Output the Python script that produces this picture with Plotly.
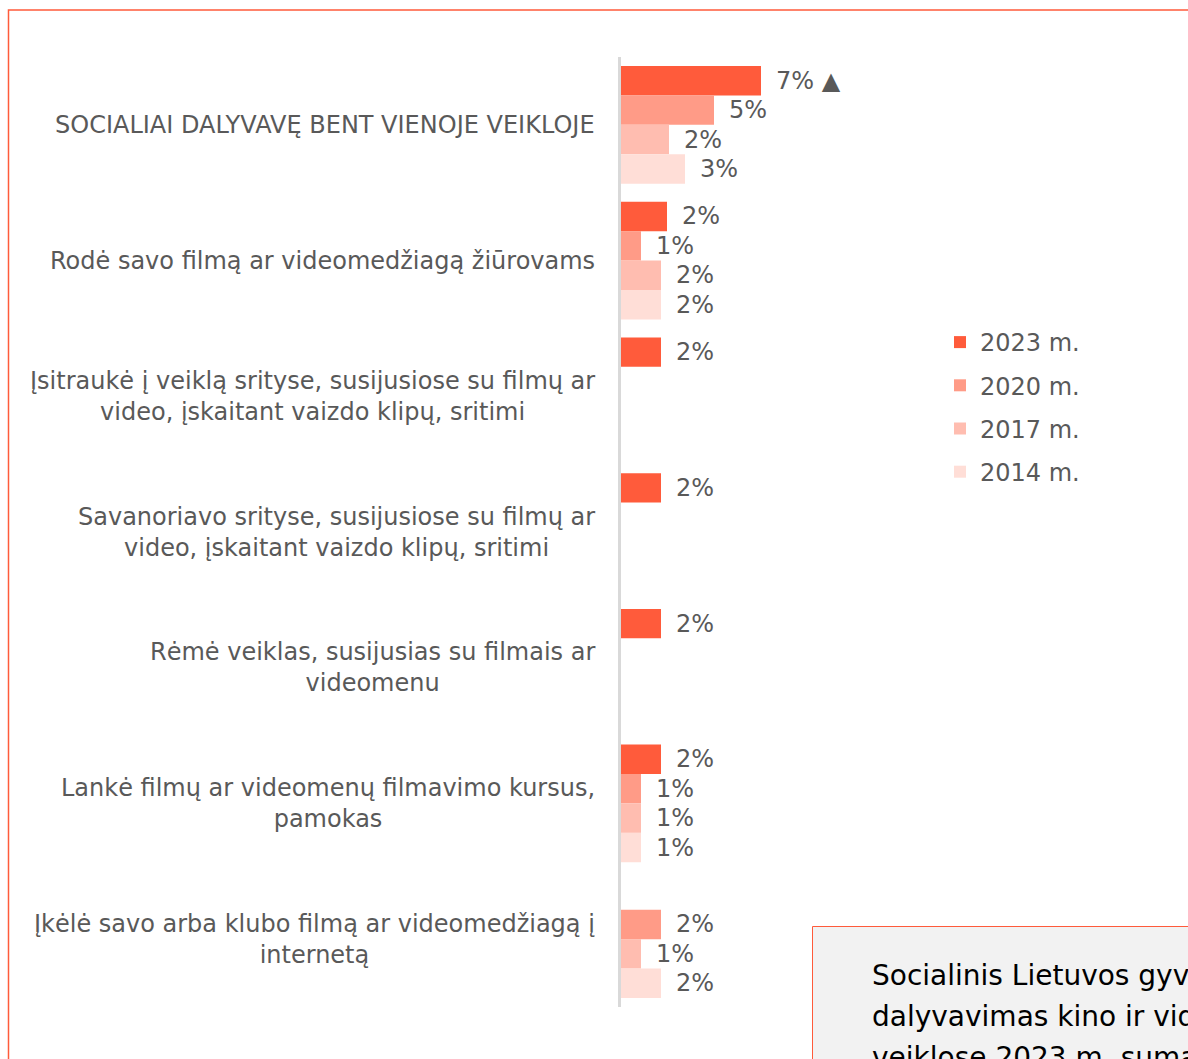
import plotly.graph_objects as go

categories = [
    "SOCIALIAI DALYVAVĘ BENT VIENOJE VEIKLOJE",
    "Rodė savo filmą ar videomedžiagą žiūrovams",
    "Įsitraukė į veiklą srityse, susijusiose su filmų ar<br>video, įskaitant vaizdo klipų, sritimi",
    "Savanoriavo srityse, susijusiose su filmų ar<br>video, įskaitant vaizdo klipų, sritimi",
    "Rėmė veiklas, susijusias su filmais ar<br>videomenu",
    "Lankė filmų ar videomenų filmavimo kursus,<br>pamokas",
    "Įkėlė savo arba klubo filmą ar videomedžiagą į<br>internetą",
]

series_names = ["2023 m.", "2020 m.", "2017 m.", "2014 m."]

values_2023 = [7.0, 2.3, 2.0, 2.0, 2.0, 2.0, None]
values_2020 = [4.65, 1.0, None, None, None, 1.0, 2.0]
values_2017 = [2.4, 2.0, None, None, None, 1.0, 1.0]
values_2014 = [3.2, 2.0, None, None, None, 1.0, 2.0]

labels_2023 = ["7% ▲", "2%", "2%", "2%", "2%", "2%", ""]
labels_2020 = ["5%", "1%", "", "", "", "1%", "2%"]
labels_2017 = ["2%", "2%", "", "", "", "1%", "1%"]
labels_2014 = ["3%", "2%", "", "", "", "1%", "2%"]

box_lines = [
    "Socialinis Lietuvos gyventojų",
    "dalyvavimas kino ir video",
    "veiklose 2023 m. sumažėjo",
]

colors = ["#FF5B3B", "#FF9B87", "#FFBDB0", "#FFDED7"]
FONT = "DejaVu Sans"
TXT = "#595959"
ORANGE = "#FF5B3B"

W, H = 1188, 1059
L, T, R, B = 621, 57, 267, 52
PW, PH = W - L - R, H - T - B


def px_x(p):
    return (p - L) / PW


def px_y(p):
    return (H - B - p) / PH


fig = go.Figure()
all_vals = [values_2023, values_2020, values_2017, values_2014]
all_labels = [labels_2023, labels_2020, labels_2017, labels_2014]
for name, vals, labs, col in zip(series_names, all_vals, all_labels, colors):
    fig.add_trace(go.Bar(
        y=categories, x=vals, name=name, orientation="h",
        marker=dict(color=col, line=dict(width=0)),
        text=labs, texttemplate="\u2002%{text}",
        textposition="outside", constraintext="none", cliponaxis=False,
        textfont=dict(family=FONT, size=24, color=TXT),
        legendgroup=name,
    ))

for cat in categories:
    fig.add_annotation(
        x=0, xref="paper", y=cat, yref="y", text=cat, showarrow=False,
        xanchor="right", yanchor="middle", align="center", xshift=-24,
        font=dict(family=FONT, size=24, color=TXT),
    )

# outer frame
fig.add_shape(type="rect", xref="paper", yref="paper",
              x0=px_x(8.5), x1=px_x(1250), y0=px_y(10), y1=px_y(1100),
              line=dict(color=ORANGE, width=1.5), fillcolor="rgba(0,0,0,0)", layer="below")
# text box
fig.add_shape(type="rect", xref="paper", yref="paper",
              x0=px_x(812.5), x1=px_x(1250), y0=px_y(926.5), y1=px_y(1100),
              line=dict(color=ORANGE, width=1), fillcolor="#F2F2F2", layer="below")
for i, line in enumerate(box_lines):
    fig.add_annotation(
        x=px_x(870), xref="paper", y=px_y(975 + 41 * i), yref="paper", text=line,
        showarrow=False, xanchor="left", yanchor="middle", align="left",
        font=dict(family=FONT, size=28, color="#000000"),
    )

fig.update_layout(
    width=W, height=H,
    margin=dict(l=L, r=R, t=T, b=B, pad=0),
    paper_bgcolor="white", plot_bgcolor="white",
    barmode="group", bargap=0.133, bargroupgap=0,
    showlegend=True,
    legend=dict(x=px_x(940), y=px_y(320), xanchor="left", yanchor="top",
                font=dict(family=FONT, size=24, color=TXT),
                tracegroupgap=9, traceorder="grouped", bgcolor="rgba(0,0,0,0)"),
    xaxis=dict(range=[0, PW / 20.0], showgrid=False, zeroline=False,
               showticklabels=False, ticks="", showline=False, fixedrange=True),
    yaxis=dict(autorange="reversed", showgrid=False, zeroline=False,
               showticklabels=False, ticks="", showline=True,
               linecolor="#D9D9D9", linewidth=2.5, fixedrange=True),
    font=dict(family=FONT, color=TXT),
)

fig.write_html("out.html", config={"displayModeBar": False},
               post_script="document.body.style.margin='0';document.body.style.overflow='hidden';")
